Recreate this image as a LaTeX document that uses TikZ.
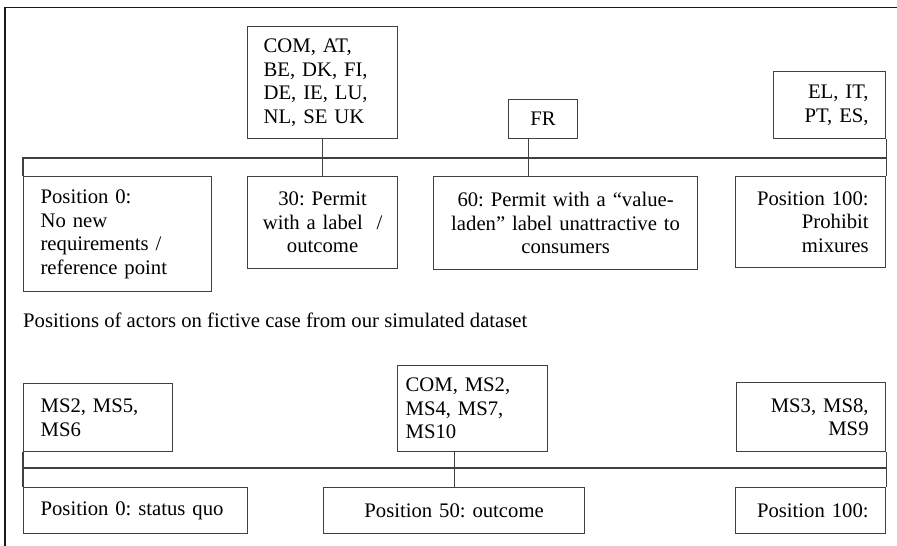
\documentclass[tikz,border=0pt]{standalone}
\usepackage{fontspec}
\setmainfont{Liberation Serif}
\usetikzlibrary{positioning}
\frenchspacing

\tikzset{
  posbox/.style={draw=black!75, line width=1.2pt, anchor=north west,
    inner ysep=0pt, font=\fontsize{20.7}{23.5}\selectfont},
  bar/.style={draw=black!75, line width=1.2pt},
  frame/.style={draw=black!90, line width=1.3pt}
}

\begin{document}
\begin{tikzpicture}[x=1pt,y=-1pt]
  \useasboundingbox (0,0) rectangle (897,546);
  \draw[frame] (5,546) -- (5,7.5) -- (897,7.5);

  % positions on the real case
  \node[posbox, minimum width=188pt, minimum height=115pt, inner xsep=17pt,
        text width=154pt, align=left] (p0) at (23,176)
        {Position 0:\\No new\\requirements /\\reference point};
  \node[posbox, minimum width=150pt, minimum height=92pt, inner xsep=4pt,
        text width=142pt, align=center] (p30) at (247,176)
        {30: Permit\\with a label~~/\\outcome};
  \node[posbox, minimum width=264pt, minimum height=93pt, inner xsep=4pt,
        text width=256pt, align=center] (p60) at (433,176)
        {60: Permit with a “value-\\laden” label unattractive to\\consumers};
  \node[posbox, minimum width=150pt, minimum height=91pt, inner xsep=17pt,
        text width=116pt, align=right] (p100) at (735,176)
        {Position 100:\\Prohibit\\mixures};

  % actors
  \node[posbox, minimum width=150pt, minimum height=112pt, inner xsep=16pt,
        text width=118pt, align=left] (com) at (247,26)
        {COM, AT,\\BE, DK, FI,\\DE, IE, LU,\\NL, SE UK};
  \node[posbox, minimum width=69pt, minimum height=39pt, inner xsep=4pt,
        text width=61pt, align=center] (fr) at (508,99) {FR};
  \node[posbox, minimum width=112pt, minimum height=67pt, inner xsep=17pt,
        text width=78pt, align=right] (el) at (773,71)
        {EL, IT,\\PT, ES,};

  \coordinate (topbar) at (0,158);
  \draw[bar] (p0.north west) -- (p0.north west |- topbar) -- (p100.north east |- topbar);
  \draw[bar] (el.south east) -- (p100.north east);
  \draw[bar] (com.south) -- (p30.north);
  \draw[bar] ([xshift=-14.5pt]fr.south) -- ([xshift=-14.5pt]fr.south |- p60.north);

  \node[anchor=base west, inner sep=0pt, font=\fontsize{20.7}{23.5}\selectfont]
    (caption) at (23,327)
    {Positions of actors on fictive case from our simulated dataset};

  % simulated dataset
  \node[posbox, minimum width=149pt, minimum height=68pt, inner xsep=17pt,
        text width=115pt, align=left] (msl) at (23,383)
        {MS2, MS5,\\MS6};
  \node[posbox, minimum width=150pt, minimum height=86pt, inner xsep=8pt,
        text width=134pt, align=left] (msc) at (397,365)
        {COM, MS2,\\MS4, MS7,\\MS10};
  \node[posbox, minimum width=149pt, minimum height=69pt, inner xsep=17pt,
        text width=115pt, align=right] (msr) at (736,382)
        {MS3, MS8,\\MS9};

  \node[posbox, minimum width=224pt, minimum height=46pt, inner xsep=17pt,
        text width=190pt, align=left] (q0) at (23,487) {Position 0: status quo};
  \node[posbox, minimum width=261pt, minimum height=46pt, inner xsep=4pt,
        text width=253pt, align=center] (q50) at (323,487) {Position 50: outcome};
  \node[posbox, minimum width=150pt, minimum height=46pt, inner xsep=17pt,
        text width=116pt, align=right] (q100) at (735,487) {Position 100:};

  \coordinate (botbar) at (0,468);
  \draw[bar] (msl.south west) -- (q0.north west);
  \draw[bar] (msr.south east) -- (q100.north east);
  \draw[bar] (q0.north west |- botbar) -- (q100.north east |- botbar);
  \draw[bar] (q50.north) -- (q50.north |- msc.south);
\end{tikzpicture}
\end{document}
